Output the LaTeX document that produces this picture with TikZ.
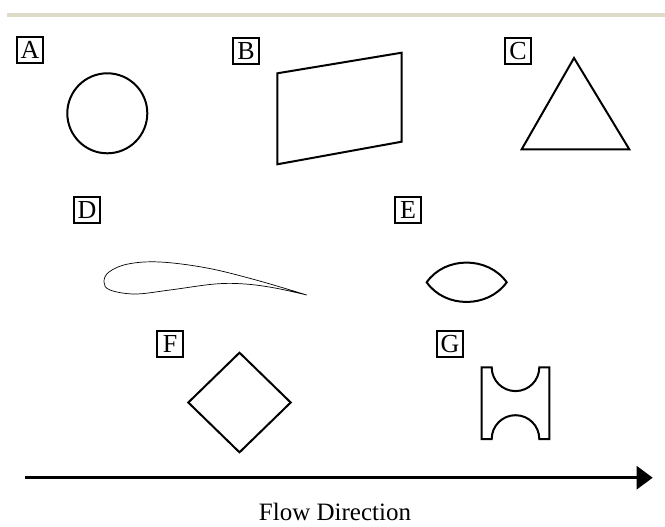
\documentclass[tikz,border=0pt]{standalone}
\usepackage{fontspec}
\setmainfont{Liberation Serif}
\usetikzlibrary{arrows.meta}
\definecolor{barcol}{HTML}{DEDBC8}
\begin{document}
\begin{tikzpicture}[x=1pt,y=-1pt,
  lbl/.style={draw,line width=1.2pt,minimum width=26pt,minimum height=26pt,inner sep=0pt,font=\fontsize{26}{26}\selectfont},
  shp/.style={draw,line width=2pt,line join=miter},
  thin shp/.style={draw,line width=0.7pt}]
\useasboundingbox (0,0) rectangle (665,527);
\fill[barcol] (7,13) rectangle (665,17);
% labels
\node[lbl] (lA) at (30,50) {A};
\node[lbl] (lB) at (246,51) {B};
\node[lbl] (lC) at (518,51) {C};
\node[lbl] (lD) at (87,210) {D};
\node[lbl] (lE) at (408,210) {E};
\node[lbl] (lF) at (170,344) {F};
\node[lbl] (lG) at (450,344) {G};
% A circle
\draw[shp] (107.3,113.3) circle[radius=40];
% B quadrilateral
\draw[shp] (277.3,73.3) -- (401.7,52.7) -- (401.7,141.7) -- (277.3,164.3) -- cycle;
% C triangle
\draw[shp] (574,58) -- (629.3,149.3) -- (521.7,149.3) -- cycle;
% D airfoil
\draw[thin shp] plot[smooth,tension=0.6] coordinates {(306.7,295) (256,280) (207,268) (160,262) (128,264) (109,272) (104,282) (110,290) (135,294) (170,290) (215,284) (245,284) (275,288) (306.7,295)};
% E lens
\draw[shp] (426.7,282.3) .. controls (445,256) and (488,256) .. (506.7,282.3)
  .. controls (488,308.5) and (445,308.5) .. (426.7,282.3) -- cycle;
% F diamond
\draw[shp] (239.5,352.7) -- (290.7,402.5) -- (239.5,452.3) -- (188.3,402.5) -- cycle;
% G shape
\draw[shp] (481.7,367.3) -- (491.7,367.3) arc[start angle=180,end angle=0,radius=23.8] -- (549.3,367.3) -- (549.3,439) -- (539.3,439) arc[start angle=0,end angle=-180,radius=23.8] -- (481.7,439) -- cycle;
% flow arrow
\coordinate (fs) at (25,477.7);
\coordinate (fe) at (652.7,477.7);
\draw[line width=2.6pt,-{Triangle[length=16pt,width=23pt]}] (fs) -- (fe);
\node[font=\fontsize{25}{25}\selectfont] (flow) at (335,512) {Flow Direction};
\end{tikzpicture}
\end{document}
